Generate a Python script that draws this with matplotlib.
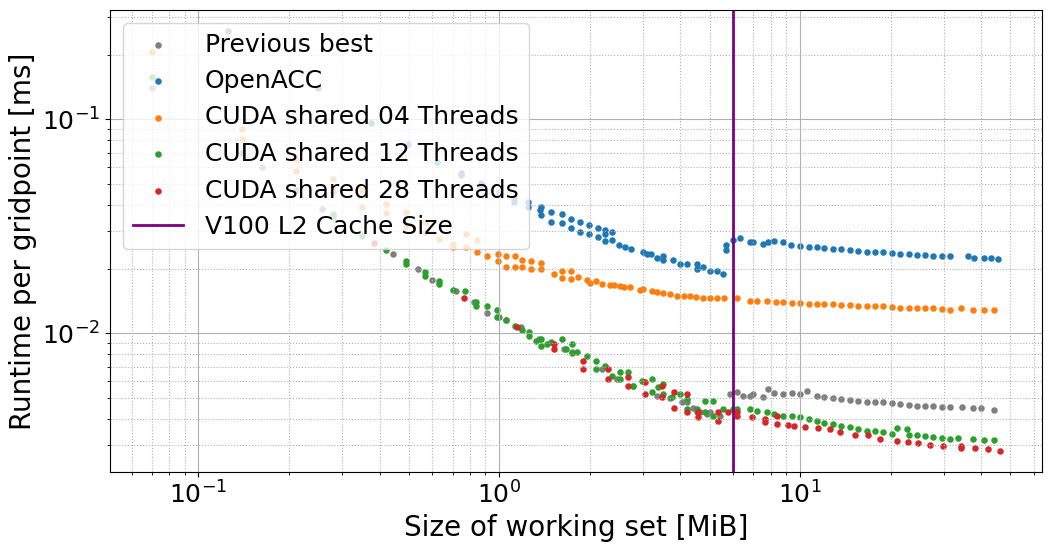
import matplotlib
matplotlib.use("Agg")
import matplotlib.pyplot as plt

# ---------------- data ----------------
prev_x = [0.0703, 0.163, 0.257, 0.443, 0.537, 0.598, 0.719, 0.826, 0.912, 1.0, 1.055, 1.184,
          1.359, 1.647, 1.751, 2.188, 2.455, 2.776, 3.337, 3.7, 4.043, 4.2, 4.4, 4.536, 4.642,
          4.9, 5.0, 5.412, 5.843, 6.166, 6.457, 6.813, 7.0, 7.527, 7.822, 8.2, 8.778, 9.4,
          10.0, 10.55, 11.39, 12.0, 12.88, 13.7, 14.68, 15.6, 16.72, 17.8, 18.91, 20.2, 21.54,
          23.0, 24.55, 26.1, 27.76, 29.6, 31.62, 34.67, 37.44, 39.81, 44.0]
prev_y = [0.140, 0.0601, 0.0383, 0.0236, 0.0201, 0.0178, 0.0157, 0.0140, 0.0125, 0.0119,
          0.0116, 0.0107, 0.00938, 0.00842, 0.00816, 0.00680, 0.00610, 0.00566, 0.00508,
          0.00500, 0.00477, 0.00477, 0.00450, 0.00428, 0.00428, 0.00420, 0.00430, 0.00410,
          0.00519, 0.00531, 0.00508, 0.00508, 0.00520, 0.00503, 0.00548, 0.00525, 0.00519,
          0.00525, 0.00519, 0.00537, 0.00508, 0.00505, 0.00498, 0.00492, 0.00487, 0.00482,
          0.00477, 0.00477, 0.00477, 0.00472, 0.00467, 0.00462, 0.00457, 0.00457, 0.00457,
          0.00455, 0.00452, 0.00452, 0.00447, 0.00447, 0.00438]

acc_x = [0.125, 0.249, 0.374, 0.497, 0.621, 0.747, 0.747, 0.871, 0.871, 1.0, 1.0, 1.122, 1.122,
         1.249, 1.249, 1.37, 1.38, 1.38, 1.49, 1.49, 1.622, 1.622, 1.738, 1.738, 1.862, 1.862,
         1.995, 1.995, 2.122, 2.122, 2.239, 2.239, 2.239, 2.362, 2.362, 2.493, 2.61, 2.733,
         2.997, 3.1, 3.2, 3.337, 3.494, 3.494, 3.773, 3.981, 4.2, 4.536, 4.536, 4.75, 5.012,
         5.289, 5.538, 5.666, 5.666, 5.98, 6.31, 6.81, 7.0, 7.53, 7.8, 8.2, 8.78, 9.3, 10.0,
         10.7, 11.39, 12.0, 12.88, 13.7, 14.68, 15.6, 16.72, 17.8, 18.91, 20.2, 21.54, 23.0,
         24.55, 26.1, 27.76, 29.6, 31.62, 36.03, 37.73, 40.74, 43.0, 45.37]
acc_y = [0.259, 0.140, 0.0963, 0.0769, 0.0634, 0.0551, 0.0560, 0.0506, 0.0490, 0.0445,
         0.0460, 0.0412, 0.0430, 0.0391, 0.0410, 0.0379, 0.0391, 0.0359, 0.0371, 0.0333,
         0.0363, 0.0329, 0.0344, 0.0312, 0.0333, 0.0299, 0.0322, 0.0290, 0.0312, 0.0283,
         0.0305, 0.0290, 0.0270, 0.0299, 0.0274, 0.0260, 0.0252, 0.0249, 0.0241, 0.0236,
         0.0234, 0.0226, 0.0221, 0.0230, 0.0221, 0.0212, 0.0210, 0.0201, 0.0210, 0.0205,
         0.0195, 0.0195, 0.0190, 0.0260, 0.0244, 0.0274, 0.0280, 0.0266, 0.0268, 0.0263,
         0.0266, 0.0270, 0.0266, 0.0260, 0.0255, 0.0254, 0.0252, 0.0251, 0.0249, 0.0247,
         0.0244, 0.0243, 0.0241, 0.0240, 0.0239, 0.0238, 0.0236, 0.0235, 0.0233, 0.0232,
         0.0231, 0.0230, 0.0229, 0.0229, 0.0226, 0.0226, 0.0224, 0.0223]

c04_x = [0.0703, 0.140, 0.140, 0.211, 0.211, 0.280, 0.280, 0.349, 0.349, 0.420, 0.420, 0.490,
         0.490, 0.567, 0.567, 0.631, 0.703, 0.703, 0.776, 0.776, 0.845, 0.845, 0.912, 0.992,
         0.992, 1.055, 1.055, 1.131, 1.131, 1.193, 1.193, 1.278, 1.278, 1.38, 1.38, 1.525,
         1.622, 1.622, 1.738, 1.738, 1.834, 1.965, 2.0, 2.105, 2.2, 2.326, 2.4, 2.512, 2.6,
         2.712, 2.929, 3.0, 3.212, 3.35, 3.494, 3.7, 3.89, 4.1, 4.299, 4.5, 4.75, 5.0, 5.289,
         5.6, 6.166, 6.813, 7.2, 7.762, 8.3, 8.778, 9.4, 10.0, 10.7, 11.39, 12.0, 12.88, 13.7,
         14.68, 15.6, 16.72, 17.8, 18.91, 20.2, 21.54, 23.0, 24.55, 26.1, 27.76, 29.6, 31.62,
         34.15, 37.44, 40.74, 44.0]
c04_y = [0.206, 0.0903, 0.0811, 0.0655, 0.0575, 0.0528, 0.0459, 0.0469, 0.0391, 0.0404,
         0.0367, 0.0371, 0.0315, 0.0333, 0.0299, 0.0277, 0.0263, 0.0254, 0.0290, 0.0254,
         0.0274, 0.0239, 0.0231, 0.0236, 0.0217, 0.0231, 0.0205, 0.0231, 0.0205, 0.0221,
         0.0205, 0.0217, 0.0199, 0.0214, 0.0199, 0.0190, 0.0195, 0.0182, 0.0195, 0.0180,
         0.0184, 0.0178, 0.0172, 0.0175, 0.0171, 0.0169, 0.0168, 0.0166, 0.0165, 0.0164,
         0.0160, 0.0161, 0.0157, 0.0156, 0.0154, 0.0153, 0.0150, 0.0150, 0.0149, 0.0148,
         0.0147, 0.0147, 0.0146, 0.0146, 0.0146, 0.0142, 0.0142, 0.0141, 0.0140, 0.0140,
         0.0139, 0.0138, 0.0137, 0.0137, 0.0137, 0.0137, 0.0136, 0.0135, 0.0134, 0.0134,
         0.0134, 0.0134, 0.0133, 0.0132, 0.0132, 0.0132, 0.0131, 0.0131, 0.0130, 0.0129,
         0.0131, 0.0129, 0.0129, 0.0129]

c12_x = [0.0703, 0.140, 0.211, 0.280, 0.280, 0.349, 0.420, 0.490, 0.490, 0.567, 0.567, 0.631,
         0.631, 0.703, 0.770, 0.838, 0.838, 0.912, 0.985, 0.985, 1.055, 1.131, 1.193, 1.259,
         1.259, 1.328, 1.38, 1.38, 1.445, 1.49, 1.622, 1.672, 1.751, 1.751, 1.82, 1.965, 2.105,
         2.105, 2.239, 2.362, 2.512, 2.512, 2.671, 2.776, 2.974, 3.212, 3.212, 3.362, 3.494,
         3.494, 3.744, 3.981, 4.201, 4.201, 4.536, 4.825, 4.825, 5.129, 5.129, 5.538, 5.98,
         6.166, 6.813, 7.2, 7.762, 8.2, 8.778, 9.4, 10.0, 10.7, 11.39, 12.0, 12.88, 13.7,
         14.68, 15.6, 16.72, 17.8, 18.91, 20.2, 21.05, 22.73, 23.0, 24.55, 26.1, 27.76, 29.6,
         31.62, 33.37, 37.44, 40.74, 44.0]
c12_y = [0.158, 0.0698, 0.0469, 0.0363, 0.0350, 0.0286, 0.0246, 0.0217, 0.0210, 0.0193,
         0.0186, 0.0175, 0.0170, 0.0160, 0.0157, 0.0140, 0.0134, 0.0134, 0.0128, 0.0119,
         0.0116, 0.0108, 0.0104, 0.0102, 0.00968, 0.00918, 0.00938, 0.00870, 0.00889,
         0.00908, 0.00938, 0.00842, 0.00889, 0.00807, 0.00816, 0.00781, 0.00740, 0.00680,
         0.00702, 0.00630, 0.00658, 0.00610, 0.00658, 0.00566, 0.00597, 0.00610, 0.00531,
         0.00560, 0.00578, 0.00519, 0.00503, 0.00519, 0.00492, 0.00442, 0.00442, 0.00482,
         0.00428, 0.00482, 0.00410, 0.00442, 0.00442, 0.00442, 0.00442, 0.00435, 0.00428,
         0.00420, 0.00410, 0.00410, 0.00406, 0.00398, 0.00389, 0.00383, 0.00376, 0.00370,
         0.00365, 0.00357, 0.00349, 0.00348, 0.00346, 0.00340, 0.00361, 0.00357, 0.00335,
         0.00335, 0.00330, 0.00327, 0.00324, 0.00321, 0.00324, 0.00321, 0.00317, 0.00317]

c28_x = [0.383, 0.765, 1.148, 1.525, 1.525, 1.905, 1.905, 2.291, 2.291, 2.671, 2.671, 3.042,
         3.042, 3.467, 3.467, 3.802, 3.802, 4.201, 4.201, 4.571, 4.571, 5.33, 5.33, 5.754,
         6.166, 6.166, 6.918, 7.644, 7.644, 8.38, 8.38, 9.12, 9.55, 10.39, 11.48, 12.59,
         13.59, 15.25, 16.85, 18.48, 21.05, 22.91, 24.74, 27.13, 29.97, 34.15, 34.15, 38.02,
         42.02, 46.07]
c28_y = [0.0265, 0.0146, 0.0107, 0.00889, 0.00842, 0.00740, 0.00680, 0.00680, 0.00610,
         0.00624, 0.00566, 0.00591, 0.00519, 0.00566, 0.00503, 0.00531, 0.00447, 0.00519,
         0.00428, 0.00428, 0.00406, 0.00428, 0.00389, 0.00428, 0.00428, 0.00410, 0.00406,
         0.00397, 0.00385, 0.00410, 0.00376, 0.00372, 0.00369, 0.00365, 0.00361, 0.00357,
         0.00346, 0.00335, 0.00335, 0.00321, 0.00314, 0.00310, 0.00307, 0.00300, 0.00297,
         0.00297, 0.00291, 0.00291, 0.00288, 0.00282]

l2_cache_mib = 6.0

series = [
    ("Previous best", prev_x, prev_y, "tab:gray"),
    ("OpenACC", acc_x, acc_y, "tab:blue"),
    ("CUDA shared 04 Threads", c04_x, c04_y, "tab:orange"),
    ("CUDA shared 12 Threads", c12_x, c12_y, "tab:green"),
    ("CUDA shared 28 Threads", c28_x, c28_y, "tab:red"),
]

# ---------------- plot ----------------
fig = plt.figure(figsize=(10.51, 5.52), dpi=100)
ax = fig.add_axes([110 / 1051, 1 - 472 / 552, (1042 - 110) / 1051, (472 - 10) / 552])

for name, xs, ys, col in series:
    ax.scatter(xs, ys, s=22, color=col, label=name, linewidths=0)

ax.axvline(l2_cache_mib, color="purple", linewidth=2, label="V100 L2 Cache Size")

ax.set_xscale("log")
ax.set_yscale("log")
ax.grid(True, which="major", color="#b0b0b0", linewidth=0.8)
ax.grid(True, which="minor", color="#b0b0b0", linestyle=":", linewidth=0.8)

ax.tick_params(axis="both", which="major", labelsize=18)
ax.set_xlabel("Size of working set [MiB]", fontsize=20)
ax.set_ylabel("Runtime per gridpoint [ms]", fontsize=20)

ax.legend(loc="upper left", fontsize=18, scatterpoints=1, borderaxespad=0.5,
          handletextpad=0.9)

fig.savefig("out.png", dpi=100)
